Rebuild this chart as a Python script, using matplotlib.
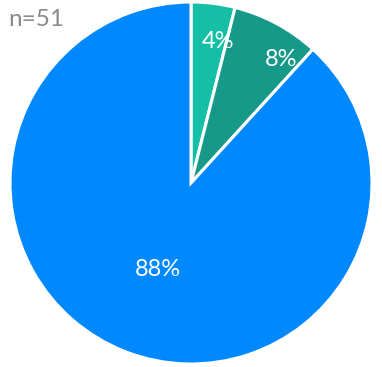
import matplotlib.pyplot as plt

labels = ['A', 'B', 'C']
counts = [2, 4, 45]
colors = ['#14bfa6', '#17998a', '#0088ff']
pct_labels = ['4%', '8%', '88%']
label_pos = [(0.15, 0.78), (0.50, 0.68), (-0.18, -0.48)]
n_total = sum(counts)

fig = plt.figure(figsize=(3.82, 3.67), dpi=100)
ax = fig.add_axes([10 / 382, 3 / 367, 362 / 382, 362 / 367])

ax.pie(counts, colors=colors, startangle=90, counterclock=False,
       wedgeprops=dict(edgecolor='white', linewidth=2.2))

for txt, (x, y) in zip(pct_labels, label_pos):
    ax.text(x, y, txt, ha='center', va='center', color='white',
            fontsize=17, family='Lato')

ax.set_xlim(-1, 1)
ax.set_ylim(-1, 1)
ax.set_aspect('equal')

fig.text(8 / 382, 1 - 19 / 367, f'n={n_total}', ha='left', va='center',
         color='#8a8a8a', fontsize=17.5, family='Lato')

fig.savefig('out.png', dpi=100)
